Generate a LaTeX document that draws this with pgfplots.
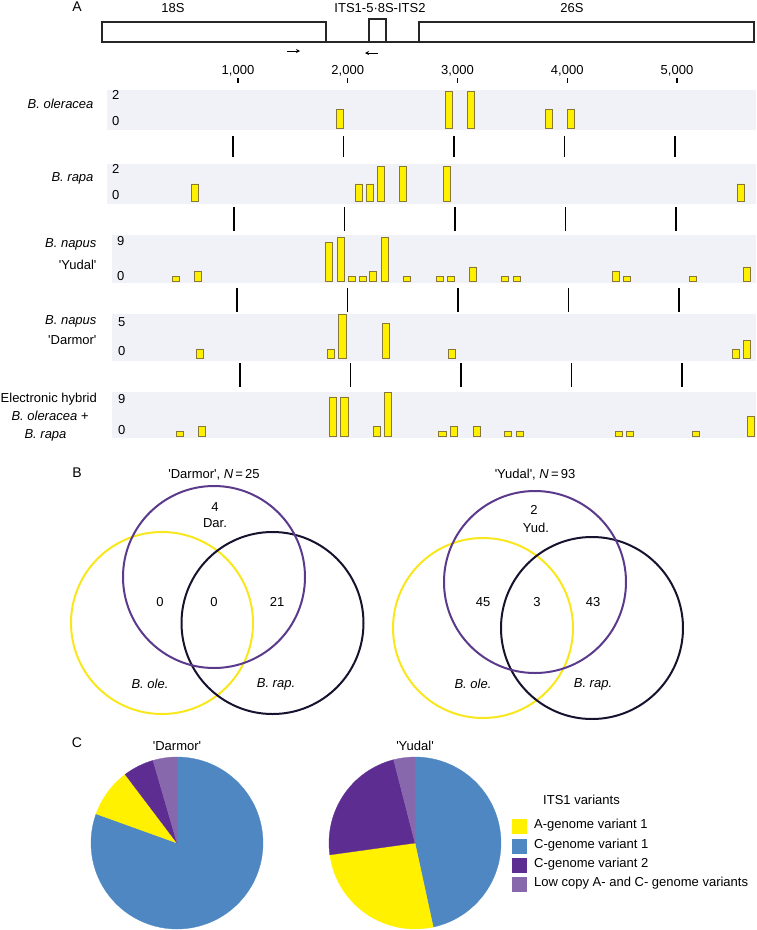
\documentclass[border=0pt]{standalone}
\usepackage{fontspec}
\setmainfont{Liberation Sans}[Ligatures=TeXOff]
\usepackage{pgfplots}
\pgfplotsset{compat=1.18}
\usetikzlibrary{arrows.meta}

\definecolor{band}{HTML}{F1F1F8}
\definecolor{barY}{HTML}{FFF000}
\definecolor{barE}{HTML}{857838}
\definecolor{vYel}{HTML}{F9E71E}
\definecolor{vPur}{HTML}{5B3A8C}
\definecolor{vBlk}{HTML}{17122E}
\definecolor{pBlue}{HTML}{4F87C2}
\definecolor{pYel}{HTML}{FFF100}
\definecolor{pDark}{HTML}{5E2D91}
\definecolor{pLight}{HTML}{8768AC}

\pgfplotsset{
  every axis/.append style={font=\fontsize{13}{15}\selectfont},
  trk/.style={anchor=north west, scale only axis, axis line style={draw=none},
    xtick=\empty, ytick=\empty, axis background/.style={fill=band},
    xmax=5733, ybar, bar width=68},
  sep/.style={anchor=south west, scale only axis, width=649pt, height=#1,
    xmin=-140, xmax=5733, ymin=0, ymax=1, axis x line=bottom, axis y line=none,
    x axis line style={draw=none}, xtick={1000,2000,3000,4000,5000},
    xticklabels={{},{},{},{},{}},
    xtick align=inside, major tick length=#1, tick style={black, line width=1.3pt}},
  barplot/.style={fill=barY, draw=barE, line width=0.8pt}
}

\newcommand\piechart[3]{%
  \gdef\angA{90}%
  \foreach \v/\c in {#3} {%
    \pgfmathsetmacro\angB{\angA-3.6*\v}%
    \filldraw[fill=\c, draw=\c, line width=0.3pt] (#1pt,-#2pt) -- ++(\angA:86pt)
      arc[start angle=\angA, end angle=\angB, radius=86pt] -- cycle;
    \xdef\angA{\angB}%
  }%
}

\begin{document}
\begin{tikzpicture}[font=\fontsize{13}{15}\selectfont]
\path[use as bounding box] (0,0) rectangle (756pt,-930pt);

% ---------- top scale ----------
\begin{axis}[at={(107pt,-93pt)}, anchor=south west, scale only axis, width=649pt, height=10pt,
  xmin=-193.6, xmax=5720, ymin=0, ymax=1, axis x line=top, axis y line=none,
  x axis line style={draw=none}, xtick={1000,2000,3000,4000,5000},
  xticklabels={{1,000},{2,000},{3,000},{4,000},{5,000}},
  xtick align=outside, major tick length=5pt, tick style={black, line width=1.2pt},
  /pgf/number format/assume math mode=true, xticklabel style={inner sep=2pt}]
\addplot[draw=none] coordinates {(0,0)};
\end{axis}

% ---------- tracks ----------
\begin{axis}[trk, at={(107pt,-90pt)}, width=649pt, height=40pt, xmin=-140, ymin=-0.1, ymax=2.06]
\addplot[barplot] coordinates {(1968,1) (2955,2) (3154,2) (3860,1) (4059,1)};
\end{axis}

\begin{axis}[trk, at={(107pt,-164pt)}, width=649pt, height=40pt, xmin=-140, ymin=-0.13, ymax=2.12]
\addplot[barplot] coordinates {(656,1) (2140,1) (2240,1) (2339,2) (2538,2) (2937,2) (5597,1)};
\end{axis}

\begin{axis}[trk, at={(112pt,-235pt)}, width=644pt, height=48pt, xmin=-95, ymin=-0.26, ymax=9.47]
\addplot[barplot] coordinates {(484,1) (683,2) (1869,8) (1977,9) (2077,1) (2177,1) (2267,2) (2376,9)
  (2575,1) (2873,1) (2973,1) (3172,3) (3462,1) (3570,1) (4466,2) (4566,1) (5163,1) (5652,3)};
\end{axis}

\begin{axis}[trk, at={(112pt,-314pt)}, width=644pt, height=47pt, xmin=-95, ymin=-0.3, ymax=5.02]
\addplot[barplot] coordinates {(701,1) (1887,1) (1991,5) (2385,4) (2982,1) (5552,1) (5652,2)};
\end{axis}

\begin{axis}[trk, at={(112pt,-392pt)}, width=644pt, height=46pt, xmin=-95, ymin=-0.33, ymax=9.0]
\addplot[barplot] coordinates {(520,1) (719,2) (1905,8) (2009,8) (2303,2) (2403,9) (2896,1) (3000,2)
  (3208,2) (3489,1) (3597,1) (4493,1) (4593,1) (5190,1) (5688,4)};
\end{axis}

% ---------- separators ----------
\begin{axis}[sep=21pt, at={(107pt,-157pt)}]
\addplot[draw=none] coordinates {(0,0)};
\end{axis}
\begin{axis}[sep=24pt, at={(108pt,-231pt)}]
\addplot[draw=none] coordinates {(0,0)};
\end{axis}
\begin{axis}[sep=24pt, at={(111pt,-312pt)}]
\addplot[draw=none] coordinates {(0,0)};
\end{axis}
\begin{axis}[sep=24pt, at={(114pt,-387pt)}]
\addplot[draw=none] coordinates {(0,0)};
\end{axis}

% ---------- annotations (pixel coordinates) ----------
\begin{scope}[x=1pt, y=-1pt]
  % panel letters
  \node[font=\fontsize{14}{16}\selectfont] at (77,7) {A};
  \node[font=\fontsize{14}{16}\selectfont] at (77,473) {B};
  \node[font=\fontsize{14}{16}\selectfont] at (77,743) {C};
  % gene diagram
  \draw[line width=1.3pt, black!85] (102,22) rectangle (326,42);
  \draw[line width=1.3pt, black!85] (369,19) rectangle (386,42);
  \draw[line width=1.3pt, black!85] (419,22) rectangle (754,42);
  \draw[line width=1.3pt, black!85] (326,42) -- (369,42) (386,42) -- (419,42);
  \node at (173,8) {18S};
  \node at (380,8) {ITS1-5·8S-ITS2};
  \node at (572,8) {26S};
  \draw[line width=0.8pt, -{Stealth[length=4pt,width=4pt]}] (287,51) -- (300,51);
  \draw[line width=0.8pt, -{Stealth[length=4pt,width=4pt]}] (378,53) -- (365,53);
  % track labels
  \node[anchor=mid east, font=\fontsize{13}{15}\selectfont\itshape] at (97,106) {B. oleracea};
  \node[anchor=mid east, font=\fontsize{13}{15}\selectfont\itshape] at (97,179) {B. rapa};
  \node[anchor=mid east, font=\fontsize{13}{15}\selectfont\itshape] at (100,245) {B. napus};
  \node[anchor=mid east] at (100,267) {'Yudal'};
  \node[anchor=mid east, font=\fontsize{13}{15}\selectfont\itshape] at (100,322) {B. napus};
  \node[anchor=mid east] at (100,342) {'Darmor'};
  \node[anchor=mid west, inner sep=0pt] at (0.5,400) {Electronic hybrid};
  \node[anchor=mid east, font=\fontsize{13}{15}\selectfont\itshape] at (92,418) {B. oleracea +};
  \node[anchor=mid east, font=\fontsize{13}{15}\selectfont\itshape] at (70,436) {B. rapa};
  % track value labels
  \node[anchor=mid west, inner sep=0pt] at (112,97) {2};
  \node[anchor=mid west, inner sep=0pt] at (112,123) {0};
  \node[anchor=mid west, inner sep=0pt] at (112,171) {2};
  \node[anchor=mid west, inner sep=0pt] at (112,197) {0};
  \node[anchor=mid west, inner sep=0pt] at (117,243) {9};
  \node[anchor=mid west, inner sep=0pt] at (117,278) {0};
  \node[anchor=mid west, inner sep=0pt] at (118,324) {5};
  \node[anchor=mid west, inner sep=0pt] at (118,353) {0};
  \node[anchor=mid west, inner sep=0pt] at (118,401) {9};
  \node[anchor=mid west, inner sep=0pt] at (118,432) {0};

  % ---------- Venn diagrams ----------
  \node at (214,475) {'Darmor', \textit{N}\,=\,25};
  \draw[vYel, line width=2pt] (162,623) circle[radius=91];
  \draw[vBlk, line width=2pt] (272.5,623) circle[radius=91];
  \draw[vPur, line width=2pt] (214,577) circle[radius=91];
  \node at (215,507) {4};
  \node at (215,523) {Dar.};
  \node at (160,602) {0};
  \node at (214,602) {0};
  \node at (277,602) {21};
  \node[font=\fontsize{13}{15}\selectfont\itshape] at (150,684) {B. ole.};
  \node[font=\fontsize{13}{15}\selectfont\itshape] at (276,684) {B. rap.};

  \node at (535,475) {'Yudal', \textit{N}\,=\,93};
  \draw[vYel, line width=2pt] (483,628) circle[radius=90];
  \draw[vBlk, line width=2pt] (592,628) circle[radius=91];
  \draw[vPur, line width=2pt] (535,582) circle[radius=91];
  \node at (534,510) {2};
  \node at (536,528) {Yud.};
  \node at (483,602) {45};
  \node at (537,602) {3};
  \node at (593,602) {43};
  \node[font=\fontsize{13}{15}\selectfont\itshape] at (473,684) {B. ole.};
  \node[font=\fontsize{13}{15}\selectfont\itshape] at (593,684) {B. rap.};

  % ---------- pie titles and legend ----------
  \node at (177,746) {'Darmor'};
  \node at (415,746) {'Yudal'};
  \node[anchor=mid west, inner sep=0pt] at (543,802) {ITS1 variants};
  \fill[pYel]   (512,819) rectangle (527,834);
  \fill[pBlue]  (512,839) rectangle (527,854);
  \fill[pDark]  (512,858) rectangle (527,873);
  \fill[pLight] (512,877) rectangle (527,892);
  \node[anchor=mid west, inner sep=0pt] at (534,826) {A-genome variant 1};
  \node[anchor=mid west, inner sep=0pt] at (534,846) {C-genome variant 1};
  \node[anchor=mid west, inner sep=0pt] at (534,865) {C-genome variant 2};
  \node[anchor=mid west, inner sep=0pt] at (534,884) {Low copy A- and C- genome variants};
\end{scope}

% ---------- pies (clockwise from top) ----------
\piechart{177}{843}{80.5/pBlue, 9.2/pYel, 5.8/pDark, 4.5/pLight}
\piechart{415}{843}{46.6/pBlue, 26.2/pYel, 23.2/pDark, 4.0/pLight}

\end{tikzpicture}
\end{document}
